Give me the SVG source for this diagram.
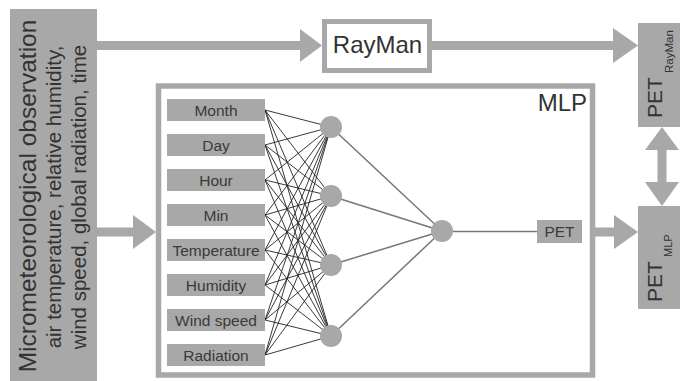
<svg xmlns="http://www.w3.org/2000/svg" width="680" height="381" viewBox="0 0 680 381">
<style>
.box{fill:#a8a8a8;}
.arr{fill:#a8a8a8;}
.t{font-family:"Liberation Sans",Arial,sans-serif;fill:#333333;}
.in{font-family:"Liberation Sans",Arial,sans-serif;fill:#3a3a3a;font-size:15.5px;text-anchor:middle;}
.w1{stroke:#222222;stroke-width:0.9;fill:none;}
.w2{stroke:#777777;stroke-width:1.5;fill:none;}
.node{fill:#a8a8a8;}
</style>
<rect width="680" height="381" fill="#ffffff"/>

<g id="connectors">
  <!-- observation -> RayMan -->
  <rect class="arr" x="96" y="41" width="206" height="9"/>
  <polygon class="arr" points="300,29 322,45.5 300,62"/>
  <!-- RayMan -> PET RayMan -->
  <rect class="arr" x="432" y="41" width="184" height="9"/>
  <polygon class="arr" points="613,28 638,45.5 613,63"/>
  <!-- observation -> MLP -->
  <rect class="arr" x="96" y="227.5" width="39" height="9"/>
  <polygon class="arr" points="133,215 156,232 133,249"/>
  <!-- MLP -> PET MLP -->
  <rect class="arr" x="594" y="227.5" width="22" height="9"/>
  <polygon class="arr" points="614,215 638,232 614,249"/>
  <!-- double arrow -->
  <rect class="arr" x="657.5" y="148" width="9" height="36"/>
  <polygon class="arr" points="645,150 662,127 679,150"/>
  <polygon class="arr" points="645,182 662,206 679,182"/>

  <!-- input -> hidden -->
  <g id="w-in-hid">
    <path class="w1" d="M265,110 L331,127 M265,110 L331,196 M265,110 L331,265 M265,110 L331,336
M265,145 L331,127 M265,145 L331,196 M265,145 L331,265 M265,145 L331,336
M265,180 L331,127 M265,180 L331,196 M265,180 L331,265 M265,180 L331,336
M265,215 L331,127 M265,215 L331,196 M265,215 L331,265 M265,215 L331,336
M265,250 L331,127 M265,250 L331,196 M265,250 L331,265 M265,250 L331,336
M265,285 L331,127 M265,285 L331,196 M265,285 L331,265 M265,285 L331,336
M265,320 L331,127 M265,320 L331,196 M265,320 L331,265 M265,320 L331,336
M265,355 L331,127 M265,355 L331,196 M265,355 L331,265 M265,355 L331,336"/>
  </g>
  <g id="w-hid-out">
    <path class="w2" d="M331,127 L442,231 M331,196 L442,231 M331,265 L442,231 M331,336 L442,231"/>
  </g>
  <path class="w2" d="M442,231.5 L537,231.5"/>
</g>

<g id="observation">
  <rect class="box" x="10" y="9" width="87" height="372"/>
  <text class="t" font-size="24.5" text-anchor="middle" transform="translate(36,196) rotate(-90)">Micrometeorological observation</text>
  <text class="t" font-size="20.5" text-anchor="middle" transform="translate(61,197) rotate(-90)">air temperature, relative humidity,</text>
  <text class="t" font-size="20.5" text-anchor="middle" transform="translate(86,197) rotate(-90)">wind speed, global radiation, time</text>
</g>

<g id="rayman">
  <rect x="324.5" y="21.5" width="105" height="49" fill="#ffffff" stroke="#a8a8a8" stroke-width="5"/>
  <text class="t" x="377.5" y="52.5" font-size="24" text-anchor="middle">RayMan</text>
</g>

<g id="mlp">
  <rect x="158.5" y="86" width="434" height="289" fill="none" stroke="#a8a8a8" stroke-width="5.5"/>
  <text class="t" x="587" y="111" font-size="24" text-anchor="end">MLP</text>
</g>

<g id="in-month"><rect class="box" x="167" y="99" width="98" height="22"/><text class="in" x="216" y="115.5">Month</text></g>
<g id="in-day"><rect class="box" x="167" y="134" width="98" height="22"/><text class="in" x="216" y="150.5">Day</text></g>
<g id="in-hour"><rect class="box" x="167" y="169" width="98" height="22"/><text class="in" x="216" y="185.5">Hour</text></g>
<g id="in-min"><rect class="box" x="167" y="204" width="98" height="22"/><text class="in" x="216" y="220.5">Min</text></g>
<g id="in-temperature"><rect class="box" x="167" y="239" width="98" height="22"/><text class="in" x="216" y="255.5">Temperature</text></g>
<g id="in-humidity"><rect class="box" x="167" y="274" width="98" height="22"/><text class="in" x="216" y="290.5">Humidity</text></g>
<g id="in-windspeed"><rect class="box" x="167" y="309" width="98" height="22"/><text class="in" x="216" y="325.5">Wind speed</text></g>
<g id="in-radiation"><rect class="box" x="167" y="344" width="98" height="22"/><text class="in" x="216" y="360.5">Radiation</text></g>

<g id="hidden-1"><circle class="node" cx="331" cy="127" r="11"/></g>
<g id="hidden-2"><circle class="node" cx="331" cy="196" r="11"/></g>
<g id="hidden-3"><circle class="node" cx="331" cy="265" r="11"/></g>
<g id="hidden-4"><circle class="node" cx="331" cy="336" r="11"/></g>
<g id="output"><circle class="node" cx="442" cy="231" r="11"/></g>

<g id="pet-out">
  <rect class="box" x="537" y="220" width="45" height="23"/>
  <text class="in" x="559.5" y="237">PET</text>
</g>

<g id="pet-rayman">
  <rect class="box" x="638" y="23" width="45" height="104"/>
  <text class="t" font-size="21" transform="translate(662,118) rotate(-90)">PET</text>
  <text class="t" font-size="11.5" transform="translate(673,73) rotate(-90)">RayMan</text>
</g>

<g id="pet-mlp">
  <rect class="box" x="638" y="206" width="45" height="103"/>
  <text class="t" font-size="21" transform="translate(662,302) rotate(-90)">PET</text>
  <text class="t" font-size="11" transform="translate(672,257) rotate(-90)">MLP</text>
</g>
</svg>
